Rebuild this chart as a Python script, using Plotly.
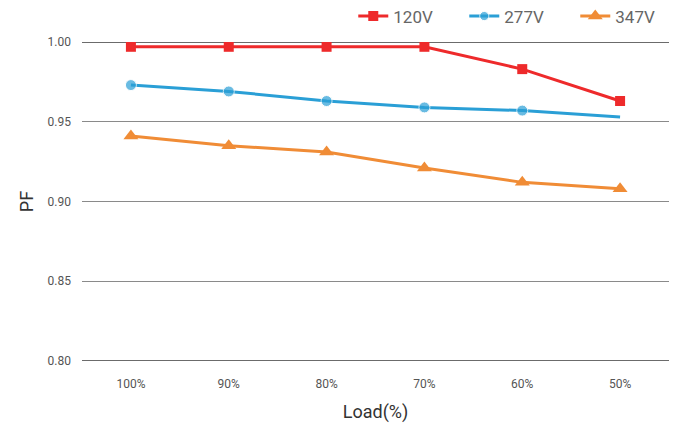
import plotly.graph_objects as go

loads = ["100%", "90%", "80%", "70%", "60%", "50%"]
pf_120 = [0.997, 0.997, 0.997, 0.997, 0.983, 0.963]
pf_277 = [0.973, 0.969, 0.963, 0.959, 0.957, 0.953]
pf_347 = [0.941, 0.935, 0.931, 0.921, 0.912, 0.908]
y_ticks = [0.80, 0.85, 0.90, 0.95, 1.00]

fig = go.Figure()
fig.add_trace(go.Scatter(x=loads, y=pf_120, name="120V", mode="lines+markers",
                         line=dict(color="#ee2a2b", width=3),
                         marker=dict(symbol="square", size=10, color="#ee2a2b")))
fig.add_trace(go.Scatter(x=loads, y=pf_277, name="277V", mode="lines+markers",
                         line=dict(color="#2a9fd6", width=3),
                         marker=dict(symbol="circle", size=[11, 11, 11, 11, 11, 0], color="#2a9fd6")))
fig.add_trace(go.Scatter(x=loads, y=pf_347, name="347V", mode="lines+markers",
                         line=dict(color="#f08c36", width=3),
                         marker=dict(symbol="triangle-up", size=13, color="#f08c36")))

# page body has an 8px margin, so the figure is shrunk and margins reduced accordingly
fig.update_layout(
    width=677, height=419,
    margin=dict(l=74, r=16, t=34, b=66, autoexpand=False),
    paper_bgcolor="white", plot_bgcolor="white",
    font=dict(family="Roboto", color="#555"),
    showlegend=True,
    legend=dict(orientation="h", xref="container", yref="paper",
                x=0.51, xanchor="left", y=1.08, yanchor="middle",
                font=dict(size=17, color="#666"), entrywidth=66, entrywidthmode="pixels",
                traceorder="normal", bgcolor="rgba(0,0,0,0)"),
    xaxis=dict(type="category", range=[-0.5, 5.5], showgrid=False, zeroline=False,
               showline=False, ticks="", ticklabelstandoff=14,
               tickfont=dict(size=12, color="#555"),
               title=dict(text="Load(%)", font=dict(size=18, color="#333"), standoff=15)),
    yaxis=dict(range=[0.8, 1.0], tickvals=y_ticks, tickformat=".2f",
               showgrid=True, gridcolor="#8a8a8a", gridwidth=1, zeroline=False,
               showline=False, ticks="", ticklabelstandoff=10,
               tickfont=dict(size=12, color="#555"),
               title=dict(text="PF", font=dict(size=18, color="#333"), standoff=9)),
)
for yv in (y_ticks[0], y_ticks[-1]):
    fig.add_shape(type="line", xref="paper", yref="y", x0=0, x1=1, y0=yv, y1=yv,
                  line=dict(color="#3a3a3a", width=1.3), layer="below")

fig.write_html("out.html")
